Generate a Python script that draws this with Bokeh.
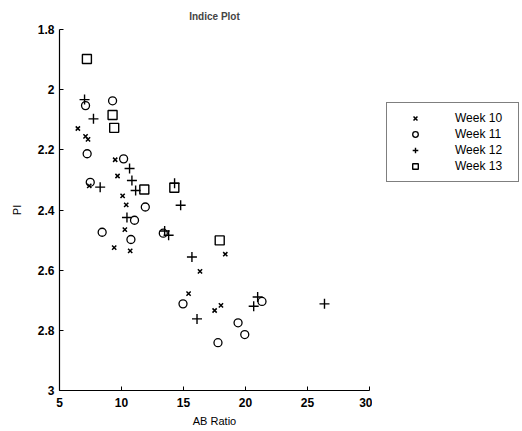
from bokeh.plotting import figure
from bokeh.models import Range1d, Legend, LegendItem, FixedTicker
from bokeh.layouts import row
from bokeh.embed import file_html
from bokeh.resources import INLINE

# Data
w10_x = [6.48, 7.1, 7.3, 9.49, 9.68, 10.09, 10.38, 10.27, 9.41, 10.70, 7.4, 16.33, 18.37, 15.41, 18.02, 17.51]
w10_y = [2.129, 2.155, 2.165, 2.233, 2.287, 2.353, 2.383, 2.465, 2.525, 2.536, 2.32, 2.604, 2.547, 2.678, 2.717, 2.734]

w11_x = [7.10, 9.28, 7.23, 7.48, 10.17, 11.92, 11.05, 8.44, 10.76, 13.37, 14.96, 21.33, 19.40, 19.94, 17.78]
w11_y = [2.053, 2.037, 2.213, 2.308, 2.230, 2.390, 2.434, 2.474, 2.498, 2.477, 2.712, 2.704, 2.775, 2.814, 2.841]

w12_x = [7.02, 7.74, 8.28, 10.65, 10.84, 11.14, 10.44, 14.28, 14.77, 13.48, 13.80, 15.68, 16.09, 20.66, 20.98, 26.37]
w12_y = [2.033, 2.097, 2.324, 2.262, 2.302, 2.335, 2.425, 2.311, 2.384, 2.470, 2.484, 2.556, 2.762, 2.720, 2.689, 2.712]

w13_x = [7.21, 9.28, 9.41, 11.84, 14.26, 17.92]
w13_y = [1.898, 2.084, 2.127, 2.332, 2.326, 2.501]

x_ticks = [5, 10, 15, 20, 25, 30]
y_ticks = [1.8, 2.0, 2.2, 2.4, 2.6, 2.8, 3.0]
y_tick_labels = {1.8: "1.8", 2.0: "2", 2.2: "2.2", 2.4: "2.4", 2.6: "2.6", 2.8: "2.8", 3.0: "3"}
labels = ["Week 10", "Week 11", "Week 12", "Week 13"]

FONT = "Liberation Sans"

p = figure(width=372, height=431, output_backend="svg", toolbar_location=None,
           x_range=Range1d(5, 30), y_range=Range1d(3, 1.8),
           title="Indice Plot", x_axis_label="AB Ratio", y_axis_label="PI",
           min_border_left=59, min_border_right=3, min_border_top=29, min_border_bottom=41)

p.outline_line_color = None
p.xgrid.grid_line_color = None
p.ygrid.grid_line_color = None
p.background_fill_color = "white"
p.border_fill_color = "white"

p.title.align = "center"
p.title.text_font = FONT
p.title.text_font_size = "10px"
p.title.text_font_style = "bold"
p.title.standoff = 15
p.title.offset = -6

for ax in (p.xaxis[0], p.yaxis[0]):
    ax.axis_line_color = "black"
    ax.axis_line_width = 1.2
    ax.major_tick_in = 4
    ax.major_tick_out = 0
    ax.minor_tick_line_color = None
    ax.major_tick_line_color = "black"
    ax.major_label_text_font = FONT
    ax.major_label_text_font_size = "12px"
    ax.major_label_text_font_style = "bold"
    ax.major_label_text_color = "black"
    ax.axis_label_text_font = FONT
    ax.axis_label_text_font_size = "11px"
    ax.axis_label_text_font_style = "normal"
    ax.axis_label_text_color = "black"

p.xaxis.ticker = FixedTicker(ticks=x_ticks)
p.yaxis.ticker = FixedTicker(ticks=y_ticks)
p.yaxis.major_label_overrides = y_tick_labels
p.xaxis.axis_label_standoff = 5
p.yaxis.axis_label_standoff = 12
p.xaxis.major_label_standoff = 7
p.yaxis.major_label_standoff = 5

styles = [
    dict(marker="x", size=6, line_color="black", line_width=1.5),
    dict(marker="circle", size=8, line_color="black", fill_color=None, line_width=1.3),
    dict(marker="cross", size=10, line_color="black", line_width=1.4),
    dict(marker="square", size=9, line_color="black", fill_color=None, line_width=1.4),
]
series = [(w10_x, w10_y), (w11_x, w11_y), (w12_x, w12_y), (w13_x, w13_y)]
for (xs, ys), st in zip(series, styles):
    p.scatter(xs, ys, **st)

# Legend panel to the right of the axes (its renderers hold points outside its own range)
q = figure(width=150, height=431, output_backend="svg", toolbar_location=None,
           x_range=Range1d(0, 1), y_range=Range1d(0, 1),
           min_border_left=0, min_border_right=0, min_border_top=0, min_border_bottom=0)
q.axis.visible = False
q.grid.visible = False
q.outline_line_color = None
q.border_fill_color = "white"
q.background_fill_color = "white"
keys = [q.scatter(xs[:1], ys[:1], **st) for (xs, ys), st in zip(series, styles)]

legend = Legend(items=[LegendItem(label=lab, renderers=[r]) for lab, r in zip(labels, keys)],
                location=(14, 208))
legend.border_line_color = "black"
legend.border_line_width = 1.2
legend.background_fill_color = "white"
legend.background_fill_alpha = 1
legend.label_text_font = FONT
legend.label_text_font_size = "12px"
legend.label_text_color = "black"
legend.label_standoff = 20
legend.glyph_width = 40
legend.glyph_height = 14
legend.label_height = 14
legend.spacing = 2
legend.padding = 8
legend.margin = 0
legend.label_width = 55
q.add_layout(legend, "center")

layout = row(p, q)
open("out.html", "w").write(file_html(layout, INLINE))
